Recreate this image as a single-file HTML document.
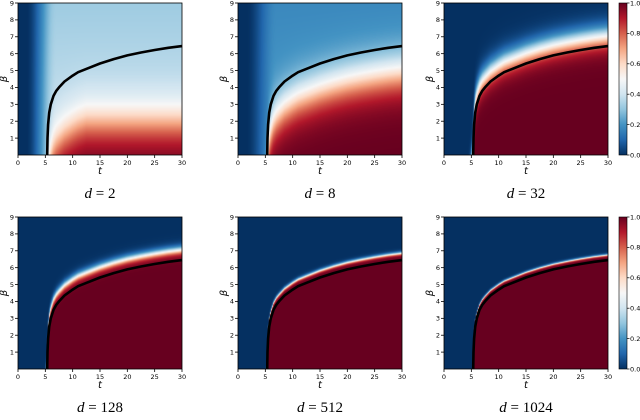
<!DOCTYPE html>
<html><head><meta charset="utf-8">
<style>
html,body{margin:0;padding:0;background:#fff;width:640px;height:420px;overflow:hidden}
#root{position:relative;width:640px;height:420px}
canvas{position:absolute}
svg{position:absolute;left:0;top:0}
text{font-family:"DejaVu Sans","Liberation Sans",sans-serif}
.cap{font-family:"Liberation Serif",serif;font-size:15px}
</style></head>
<body>
<div id="root">
<svg id="svg" width="640" height="420"></svg>
</div>
<script>
// data
const dValues = [2, 8, 32, 128, 512, 1024];
const curveT = [5.35, 5.4, 5.5, 5.7, 6, 6.5, 7, 7.5, 8.5, 10, 11, 12.5, 15, 17.5, 20, 22.5, 25, 27.5, 30];
const curveB = [0, 1, 1.8, 2.5, 3.0, 3.5, 3.8, 4.0, 4.35, 4.7, 4.9, 5.1, 5.42, 5.68, 5.9, 6.07, 6.22, 6.35, 6.45];
const transShift = [-3.2, -1.6, 0.6, 0.6, 0.4, 0.3];
const transCap = [1.9, 9, 9, 9, 9, 9];
const transWidth = [0.8, 0.75, 0.4, 0.15, 0.06, 0.04];
const floorVal = [0.4, 0.22, 0, 0, 0, 0];
const xTicks = [0, 5, 10, 15, 20, 25, 30];
const yTicks = [1, 2, 3, 4, 5, 6, 7, 8, 9];
const cbTicks = ['0.0', '0.2', '0.4', '0.6', '0.8', '1.0'];

const colX = [18, 238, 444], rowY = [3, 217], PW = 164, PH = 152;
const T_MAX = 30, B_MAX = 9;
const cmap = ['#053061','#2166ac','#4393c3','#92c5de','#d1e5f0','#f7f7f7','#fddbc7','#f4a582','#d6604d','#b2182b','#67001f'];
function hex(h){return [parseInt(h.substr(1,2),16),parseInt(h.substr(3,2),16),parseInt(h.substr(5,2),16)];}
const cm = cmap.map(hex);
function color(v){v=Math.max(0,Math.min(1,v));const f=v*10,i=Math.min(9,Math.floor(f)),r=f-i;
 return cm[i].map((c,k)=>Math.round(c+(cm[i+1][k]-c)*r));}
function curveAt(t){
 if(t<curveT[0]) return -(curveT[0]-t)*3;
 for(let i=1;i<curveT.length;i++){ if(t<=curveT[i]){const r=(t-curveT[i-1])/(curveT[i]-curveT[i-1]);return curveB[i-1]+r*(curveB[i]-curveB[i-1]);}}
 return curveB[curveB.length-1];
}
const svg = document.getElementById('svg'), root=document.getElementById('root');
const NS='http://www.w3.org/2000/svg';
function el(tag, attrs, parent){const e=document.createElementNS(NS,tag);for(const k in attrs)e.setAttribute(k,attrs[k]);(parent||svg).appendChild(e);return e;}

dValues.forEach((d, p) => {
 const x0 = colX[p%3], y0 = rowY[Math.floor(p/3)];
 const sx = t => x0 + t/T_MAX*PW, sy = b => y0 + PH - b/B_MAX*PH;
 const cv = document.createElement('canvas');
 cv.width=PW; cv.height=PH; cv.style.left=x0+'px'; cv.style.top=y0+'px';
 
 
 root.insertBefore(cv, svg);
 const ctx=cv.getContext('2d'), img=ctx.createImageData(PW,PH);
 for(let j=0;j<PH;j++){ const b=(PH-j-0.5)/PH*B_MAX;
  for(let i=0;i<PW;i++){ const t=(i+0.5)/PW*T_MAX;
   const bt=Math.min(curveAt(t)+transShift[p], transCap[p]);
   const s=1/(1+Math.exp(-(bt-b)/transWidth[p]));
   let r=Math.max(0,Math.min(1,(t-1.5)/5.5)); r=r*r*(3-2*r);
   const fl=floorVal[p]*r*(1-0.2*b/B_MAX);
   const v=fl+(1-fl)*s;
   const c=color(v), o=(j*PW+i)*4;
   img.data[o]=c[0];img.data[o+1]=c[1];img.data[o+2]=c[2];img.data[o+3]=255;}}
 ctx.putImageData(img,0,0);
 const g = el('g',{});
 
 
 let dstr='';
 curveT.forEach((t,i)=>{dstr+=(i?'L':'M')+sx(t).toFixed(1)+' '+sy(curveB[i]).toFixed(1);});
 const cl = el('path',{d:dstr,fill:'none',stroke:'#000','stroke-width':2.6,'stroke-linejoin':'round'},g);
 
 
 el('rect',{x:x0,y:y0,width:PW,height:PH,fill:'none',stroke:'#000','stroke-width':0.8},g);
 xTicks.forEach(t=>{
  el('line',{x1:sx(t),x2:sx(t),y1:y0+PH,y2:y0+PH+3,stroke:'#000','stroke-width':0.8},g);
  const tx=el('text',{x:sx(t),y:y0+PH+10,'font-size':6.5,'text-anchor':'middle'},g); tx.textContent=t;
 });
 yTicks.forEach(b=>{
  el('line',{x1:x0-3,x2:x0,y1:sy(b),y2:sy(b),stroke:'#000','stroke-width':0.8},g);
  const tx=el('text',{x:x0-4,y:sy(b)+2.3,'font-size':6.5,'text-anchor':'end'},g); tx.textContent=b;
 });
 const xl=el('text',{x:x0+PW/2,y:y0+PH+19,'font-size':10,'font-style':'italic','text-anchor':'middle','font-family':'Liberation Serif,serif'},g); xl.textContent='t';
 
 
 const yl=el('text',{x:x0-11,y:y0+PH/2,'font-size':10,'font-style':'italic','text-anchor':'middle','font-family':'Liberation Serif,serif',transform:'rotate(-90 '+(x0-11)+' '+(y0+PH/2)+')'},g); yl.textContent='β';
 
 
 const cap=el('text',{x:x0+PW/2,y:y0+PH+43,'text-anchor':'middle','class':'cap'},g);
 cap.innerHTML='<tspan font-style="italic">d</tspan> = '+d;
 
 
});
rowY.forEach(y0=>{
 const cbx=619, cbw=8;
 const g=el('g',{});
 
 
 const gid='cbg'+y0;
 const grad=el('linearGradient',{id:gid,x1:0,y1:1,x2:0,y2:0},el('defs',{},g));
 cmap.forEach((c,i)=>el('stop',{offset:i/10,'stop-color':c},grad));
 el('rect',{x:cbx,y:y0,width:cbw,height:PH,fill:'url(#'+gid+')',stroke:'#000','stroke-width':0.6},g);
 cbTicks.forEach((lab,i)=>{
  const y=y0+PH-i/5*PH;
  el('line',{x1:cbx+cbw,x2:cbx+cbw+2.5,y1:y,y2:y,stroke:'#000','stroke-width':0.7},g);
  const tx=el('text',{x:cbx+cbw+3,y:y+2.3,'font-size':6.5},g); tx.textContent=lab;
 });
});
</script>
</body></html>
